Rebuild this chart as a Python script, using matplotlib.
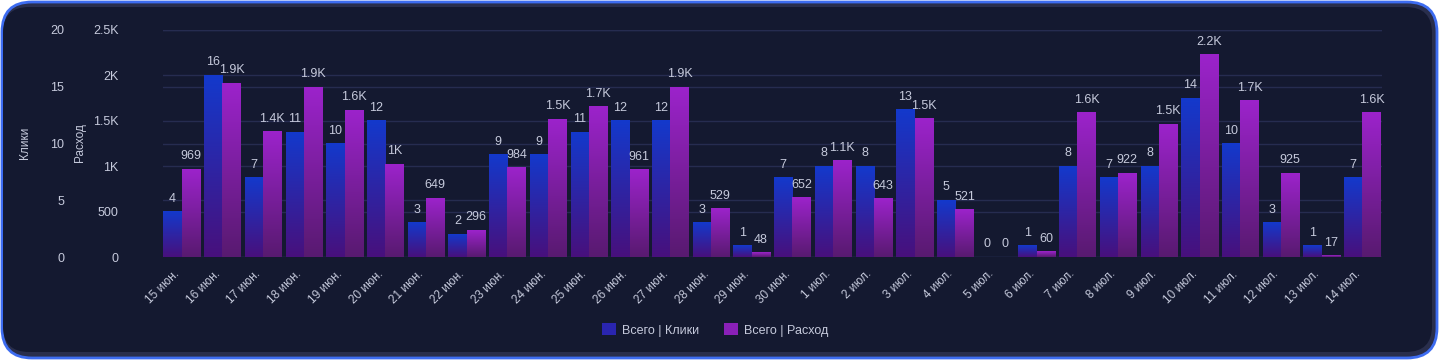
import numpy as np
import matplotlib
matplotlib.use("Agg")
from matplotlib import pyplot as plt
from matplotlib.colors import LinearSegmentedColormap
from matplotlib.patches import FancyBboxPatch, Patch
from matplotlib.transforms import ScaledTranslation

plt.rcParams["font.family"] = ["Liberation Sans", "DejaVu Sans"]

dates = ["15 июн.", "16 июн.", "17 июн.", "18 июн.", "19 июн.", "20 июн.", "21 июн.",
         "22 июн.", "23 июн.", "24 июн.", "25 июн.", "26 июн.", "27 июн.", "28 июн.",
         "29 июн.", "30 июн.", "1 июл.", "2 июл.", "3 июл.", "4 июл.", "5 июл.",
         "6 июл.", "7 июл.", "8 июл.", "9 июл.", "10 июл.", "11 июл.", "12 июл.",
         "13 июл.", "14 июл."]
clicks = [4, 16, 7, 11, 10, 12, 3, 2, 9, 9, 11, 12, 12, 3, 1, 7, 8, 8, 13, 5, 0, 1, 8, 7, 8, 14, 10, 3, 1, 7]
spend = [969, 1915, 1380, 1870, 1615, 1020, 649, 296, 984, 1515, 1655, 961, 1870, 529, 48,
         652, 1060, 643, 1522, 521, 0, 60, 1588, 922, 1460, 2225, 1720, 925, 17, 1590]
click_ticks = [0, 5, 10, 15, 20]
spend_ticks = [0, 500, 1000, 1500, 2000, 2500]
spend_labels = ["0", "500", "1K", "1.5K", "2K", "2.5K"]

BG = "#141930"
TXT = "#c6cadc"
GRID = "#262c50"

fig = plt.figure(figsize=(14.4, 3.61), dpi=100)
fig.patch.set_facecolor("white")
# card frame (behind everything)
fig.patches.append(FancyBboxPatch((2, 3), 1435, 356, boxstyle="round,pad=0,rounding_size=30",
                                  transform=None, facecolor="#292e4c", edgecolor="#3d6cf0", lw=2,
                                  zorder=-10))
fig.patches.append(FancyBboxPatch((3, 9), 1429, 345, boxstyle="round,pad=0,rounding_size=26",
                                  transform=None, facecolor=BG, edgecolor="none", zorder=-9))

rect = [163 / 1440, 1 - 257 / 361, (1382 - 163) / 1440, 227 / 361]

# grid-only axes underneath the bars
gax = fig.add_axes(rect, zorder=0)
gax2 = gax.twinx()
gax2.set_zorder(1)
for g, lim, ticks in ((gax, 20, click_ticks), (gax2, 2500, spend_ticks)):
    g.set_ylim(0, lim)
    g.set_yticks(ticks)
    g.set_xticks([])
    g.patch.set_visible(False)
    g.grid(axis="y", color=GRID, lw=1)
    g.tick_params(axis="y", length=0, labelleft=False, labelright=False)
    for sp in g.spines.values():
        sp.set_visible(False)

ax = fig.add_axes(rect, zorder=2)
ax2 = ax.twinx()
ax2.set_zorder(3)
ax.patch.set_visible(False)
ax2.patch.set_visible(False)

x = np.arange(len(dates))
w = 0.45
grad = np.linspace(0, 1, 256).reshape(-1, 1)


def grad_bars(axis, xs, vals, top, bottom):
    cmap = LinearSegmentedColormap.from_list("g", [bottom, top])
    bars = axis.bar(xs, vals, width=w, color="none", edgecolor="none")
    for b in bars:
        h = b.get_height()
        if h <= 0:
            continue
        x0 = b.get_x()
        axis.imshow(grad, extent=[x0, x0 + b.get_width(), 0, h], origin="lower",
                    cmap=cmap, aspect="auto", zorder=2, interpolation="bilinear")
    return bars


grad_bars(ax, x - w / 2, clicks, "#1339cc", "#48107c")
grad_bars(ax2, x + w / 2, spend, "#9c23cb", "#581a70")


def fmt_k(v):
    if v >= 1000:
        s = f"{v / 1000:.1f}".rstrip("0").rstrip(".")
        return s + "K"
    return str(v)


for xi, c, s in zip(x, clicks, spend):
    ax.annotate(str(c), (xi - w / 2, c), xytext=(0, 5), textcoords="offset points",
                ha="center", va="bottom", color=TXT, fontsize=9)
    ax2.annotate(fmt_k(s), (xi + w / 2, s), xytext=(0, 5), textcoords="offset points",
                 ha="center", va="bottom", color=TXT, fontsize=9)

for a in (ax, ax2, gax, gax2):
    a.set_xlim(-0.46, 29.48)
for a in (ax, ax2):
    for sp in a.spines.values():
        sp.set_visible(False)

ax.set_ylim(0, 20)
ax.set_yticks(click_ticks)
ax2.set_ylim(0, 2500)
ax2.set_yticks(spend_ticks)
ax2.set_yticklabels(spend_labels)
ax2.yaxis.tick_left()

ax.tick_params(axis="y", length=0, pad=71, colors=TXT, labelsize=9)
ax2.tick_params(axis="y", length=0, pad=32, colors=TXT, labelsize=9)

ax.set_xticks(x)
ax.set_xticklabels(dates, rotation=45, ha="right", rotation_mode="anchor")
ax.tick_params(axis="x", length=0, pad=8, colors=TXT, labelsize=8.5)
shift = ScaledTranslation(-6 / 72, 0, fig.dpi_scale_trans)
for lab in ax.get_xticklabels():
    lab.set_transform(lab.get_transform() + shift)
ax2.tick_params(axis="x", length=0, labelbottom=False)

fig.text(25 / 1440, 1 - 143 / 361, "Клики", rotation=90, ha="center", va="center", color=TXT, fontsize=8.5)
fig.text(80 / 1440, 1 - 143 / 361, "Расход", rotation=90, ha="center", va="center", color=TXT, fontsize=8.5)

handles = [Patch(facecolor="#2a25b0", edgecolor="none", label="Всего | Клики"),
           Patch(facecolor="#8a20b8", edgecolor="none", label="Всего | Расход")]
fig.legend(handles=handles, loc="center", bbox_to_anchor=(715 / 1440, 1 - 330 / 361), ncol=2,
           frameon=False, fontsize=9, labelcolor=TXT, handlelength=1.1, handleheight=1.1,
           columnspacing=2.0, handletextpad=0.5)

fig.savefig("out.png", dpi=100, facecolor=fig.get_facecolor())
